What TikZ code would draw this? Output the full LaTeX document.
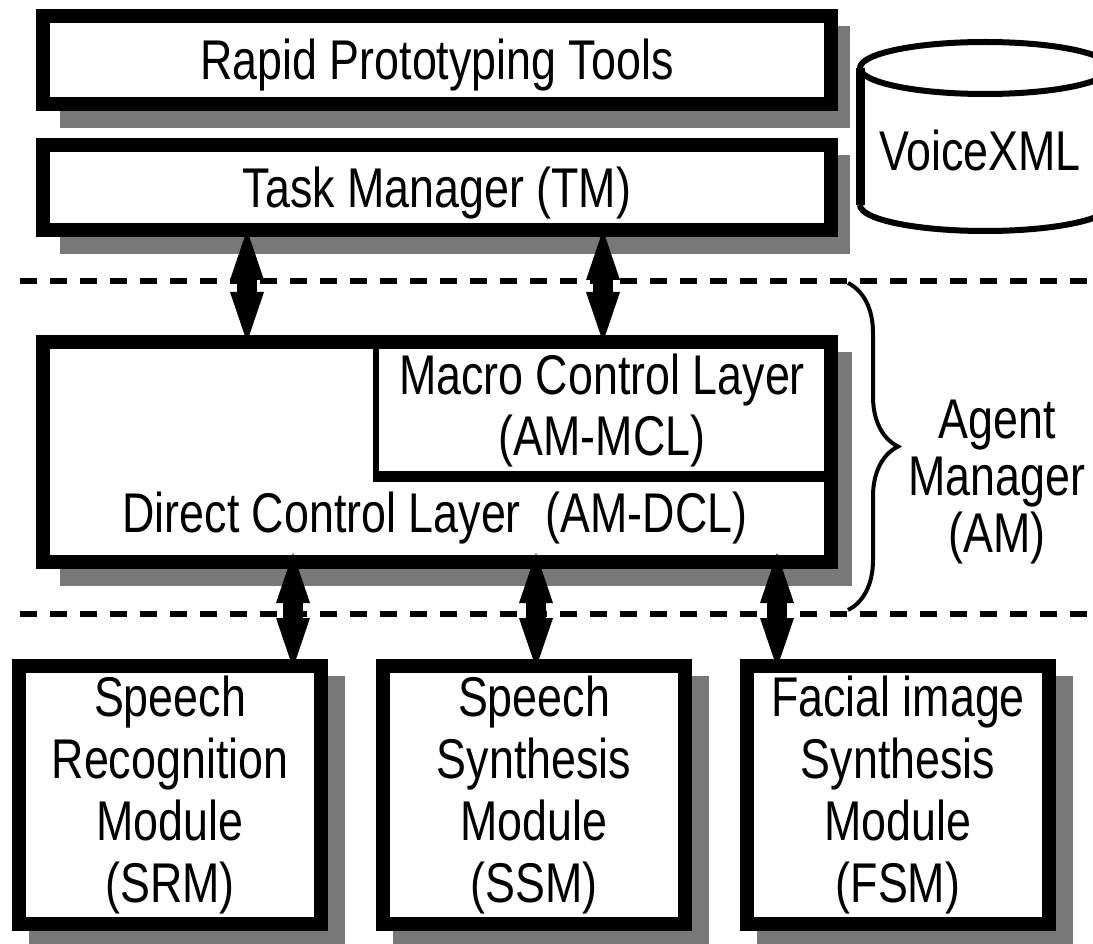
\documentclass[tikz,border=0pt]{standalone}
\usepackage{fontspec}
\setmainfont{Liberation Sans}[FakeStretch=0.8]
\usepackage{tikz}
\usetikzlibrary{arrows.meta,calc,backgrounds,decorations.pathreplacing}

\definecolor{shadowgray}{gray}{0.47}
\newcommand{\diagfont}{\fontsize{56pt}{62pt}\selectfont}
\newcommand{\dropshadow}[3]{\fill[shadowgray] ($(#1.north west)+(#2,10)$) rectangle ($(#1.south east)+(#3,24)$);}

\tikzset{
  modbox/.style={draw, line width=14pt, fill=white, outer sep=0pt, inner sep=0pt, align=center, font=\diagfont},
  oneline/.style={text height=40pt, text depth=0pt},
  layerline/.style={line width=6pt, dash pattern=on 17pt off 13pt},
  biarrow/.style={line width=20pt, arrows={Triangle[width=34pt,length=50pt,line width=0pt]-Triangle[width=34pt,length=50pt,line width=0pt]}},
}

\begin{document}
\begin{tikzpicture}[x=1pt,y=1pt,yscale=-1,xscale=1]
\useasboundingbox (0,0) rectangle (1093,944);

%Shape: Rectangle [top boxes]
\node[modbox, oneline, minimum width=788pt, minimum height=88pt] (rapid) at (437,60) {Rapid Prototyping Tools};
\node[modbox, oneline, minimum width=788pt, minimum height=85pt] (tm) at (437,187.5) {Task Manager (TM)};

%Shape: Rectangle [agent manager]
\node[modbox, minimum width=788pt, minimum height=220pt] (am) at (437,452) {};
\node[outer sep=0pt, inner sep=0pt, minimum width=452pt, minimum height=130.5pt, align=center, font=\fontsize{56pt}{61pt}\selectfont] (mcl) at (602,411) {Macro Control Layer\\(AM-MCL)};
\draw[line width=6pt] (mcl.north west) -- (mcl.south west);
\draw[line width=11pt] ([xshift=-3pt]mcl.south west) -- (mcl.south east);
% Text Node
\node[oneline, inner sep=0pt, font=\diagfont] (dcl) at (435,512) {Direct Control Layer\ \ (AM-DCL)};

%Shape: Rectangle [modules]
\node[modbox, minimum width=302pt, minimum height=258pt] (srm) at (170,795) {Speech\\Recognition\\Module\\(SRM)};
\node[modbox, minimum width=302pt, minimum height=258pt] (ssm) at (534,795) {Speech\\Synthesis\\Module\\(SSM)};
\node[modbox, minimum width=302pt, minimum height=258pt] (fsm) at (898,795) {Facial image\\Synthesis\\Module\\(FSM)};

%Shape: Can [VoiceXML]
\draw[line width=6pt] (985,68) ellipse [x radius=125, y radius=26];
\draw[line width=9pt] (860,68) -- (860,205);
\draw[line width=6pt] (860,205) arc[start angle=180, end angle=0, x radius=125, y radius=26];
% Text Node
\node[oneline, inner sep=0pt, font=\diagfont] (vxml) at (980,151) {VoiceXML};

%Straight Lines [layer borders]
\draw[layerline] (20,281) -- (1093,281);
\draw[layerline] (20,614) -- (1093,614);

%Brace
\draw[line width=4pt, decorate, decoration={brace, amplitude=50pt}] (848,283) -- (848,610);
% Text Node
\node[inner sep=0pt, align=center, font=\fontsize{56pt}{57pt}\selectfont] (amlabel) at (997,482) {Agent\\Manager\\(AM)};

%Double Arrows
\draw[biarrow] ([xshift=-190pt]tm.south) -- ([xshift=-190pt]am.north);
\draw[biarrow] ([xshift=166pt]tm.south) -- ([xshift=166pt]am.north);
\draw[biarrow] ($(am.south -| srm.north)+(123,-9)$) -- ($(srm.north)+(123,2)$);
\draw[biarrow] ($(am.south -| ssm.north)+(2,-9)$) -- ($(ssm.north)+(2,2)$);
\draw[biarrow] ($(am.south -| fsm.north)+(-121,-9)$) -- ($(fsm.north)+(-121,2)$);

%Shadows
\begin{scope}[on background layer]
\fill[white] (0,0) rectangle (1093,944);
\dropshadow{rapid}{17}{19}
\dropshadow{tm}{17}{19}
\dropshadow{am}{17}{21}
\dropshadow{srm}{10}{24}
\dropshadow{ssm}{10}{24}
\dropshadow{fsm}{10}{24}
\end{scope}

\end{tikzpicture}
\end{document}
